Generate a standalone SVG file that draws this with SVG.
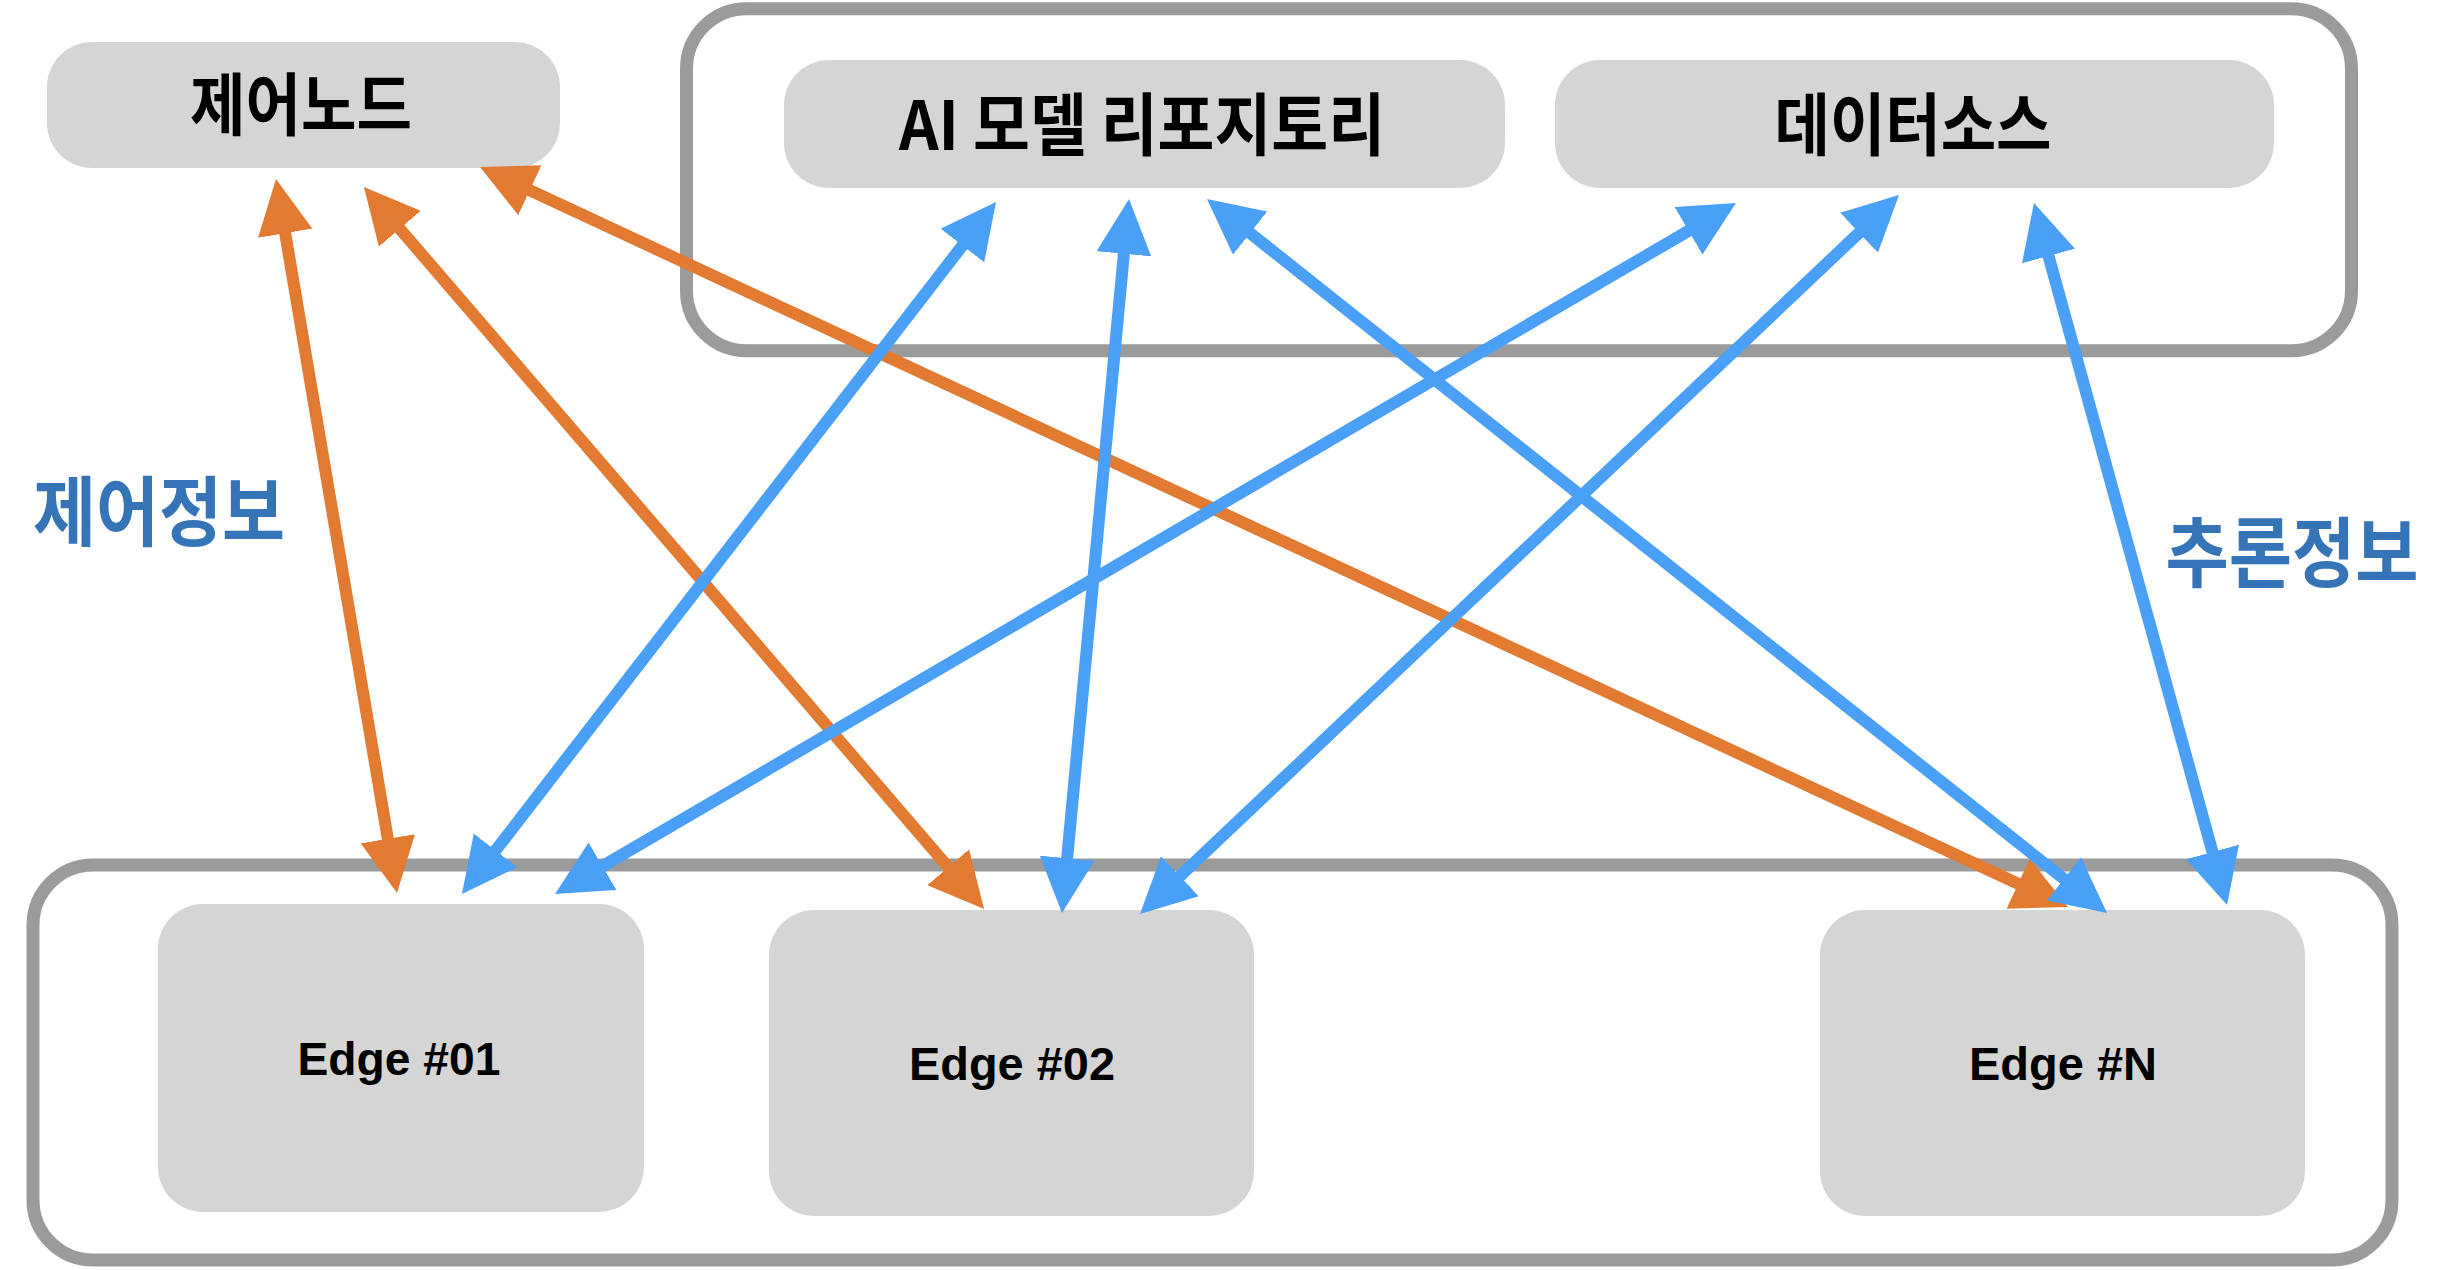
<svg xmlns="http://www.w3.org/2000/svg" width="2452" height="1270" viewBox="0 0 2452 1270">
<style>
.container{fill:#ffffff;stroke:#9b9b9b;stroke-width:13}
.node{fill:#d5d5d5}
.kr{font-family:"Noto Sans CJK KR","Noto Sans",sans-serif;font-weight:700;fill:#000000;text-anchor:middle;dominant-baseline:central}
.lbl{font-family:"Noto Sans CJK KR","Noto Sans",sans-serif;font-weight:700;fill:#3674b8;text-anchor:middle;dominant-baseline:central}
.en{font-family:"Liberation Sans",Arial,sans-serif;font-weight:700;fill:#000000;text-anchor:middle}
.o{stroke:#e27a32;stroke-width:12;fill:none;marker-start:url(#ao);marker-end:url(#ao)}
.b{stroke:#4aa0f7;stroke-width:12;fill:none;marker-start:url(#ab);marker-end:url(#ab)}
</style>
<defs>
<marker id="ao" markerUnits="userSpaceOnUse" markerWidth="55" markerHeight="55" viewBox="0 0 55 55" refX="25" refY="27.5" orient="auto-start-reverse"><path d="M0,0 L55,27.5 L0,55 Z" fill="#e27a32"/></marker>
<marker id="ab" markerUnits="userSpaceOnUse" markerWidth="55" markerHeight="55" viewBox="0 0 55 55" refX="25" refY="27.5" orient="auto-start-reverse"><path d="M0,0 L55,27.5 L0,55 Z" fill="#4aa0f7"/></marker>
</defs>
<rect width="2452" height="1270" fill="#ffffff"/>
<g id="cloud-group"><rect class="container" x="686.5" y="8.7" width="1665" height="342" rx="60" ry="60"/></g>
<g id="edge-group"><rect class="container" x="33" y="865" width="2359" height="395" rx="60" ry="60"/></g>
<g id="control-node"><rect class="node" x="47" y="42" width="513" height="126" rx="45" ry="45"/><text class="kr" x="301" y="100" font-size="68" textLength="222" lengthAdjust="spacingAndGlyphs">제어노드</text></g>
<g id="ai-model-repo"><rect class="node" x="784" y="60" width="721" height="128" rx="45" ry="45"/><text class="kr" x="1142" y="120" font-size="68" textLength="486" lengthAdjust="spacingAndGlyphs">AI 모델 리포지토리</text></g>
<g id="data-source"><rect class="node" x="1555" y="60" width="719" height="128" rx="45" ry="45"/><text class="kr" x="1913" y="120" font-size="68" textLength="277" lengthAdjust="spacingAndGlyphs">데이터소스</text></g>
<g id="edge-01"><rect class="node" x="158" y="904" width="486" height="308" rx="45" ry="45"/><text class="en" x="399" y="1075" font-size="47" textLength="203" lengthAdjust="spacingAndGlyphs">Edge #01</text></g>
<g id="edge-02"><rect class="node" x="769" y="910" width="485" height="306" rx="45" ry="45"/><text class="en" x="1012" y="1080" font-size="47" textLength="206" lengthAdjust="spacingAndGlyphs">Edge #02</text></g>
<g id="edge-n"><rect class="node" x="1820" y="910" width="485" height="306" rx="45" ry="45"/><text class="en" x="2063" y="1080" font-size="47" textLength="188" lengthAdjust="spacingAndGlyphs">Edge #N</text></g>
<g id="label-control"><text class="lbl" x="159" y="507" font-size="76" textLength="252" lengthAdjust="spacingAndGlyphs">제어정보</text></g>
<g id="label-inference"><text class="lbl" x="2292" y="548" font-size="76" textLength="253" lengthAdjust="spacingAndGlyphs">추론정보</text></g>
<g id="connectors">
<path class="o" d="M281,208.6 L392,863.4"/>
<path class="o" d="M383.5,209.8 L964.5,886.2"/>
<path class="o" d="M507.2,179.7 L2040.8,894.3"/>
<path class="b" d="M977.7,225.8 L480.3,870.2"/>
<path class="b" d="M1126.2,228.9 L1064.8,883.1"/>
<path class="b" d="M1230.5,217.6 L2083.5,894.4"/>
<path class="b" d="M1710.1,218.2 L580.9,878.8"/>
<path class="b" d="M1877.2,215.6 L1161.8,893.4"/>
<path class="b" d="M2041.9,231.9 L2219.1,876.1"/>
</g>
</svg>
